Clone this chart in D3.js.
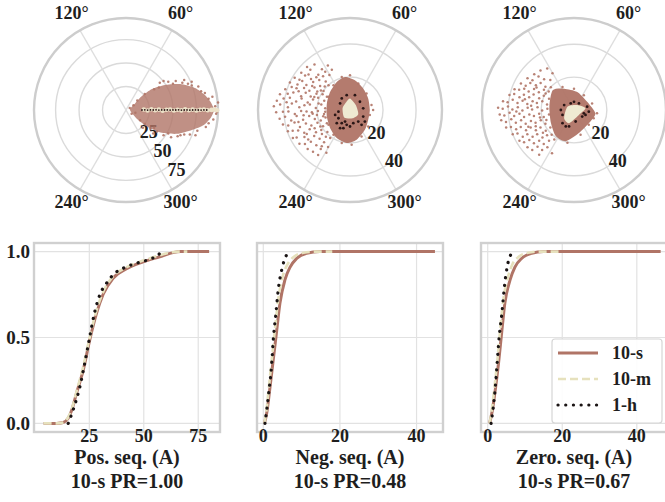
<!DOCTYPE html>
<html><head><meta charset="utf-8">
<script src="https://cdn.jsdelivr.net/npm/d3@7"></script>
<style>body{margin:0;background:#fff}svg{display:block}</style>
</head><body><svg id="c" width="665" height="502"></svg>
<script>
// ---------------- DATA ----------------
const seriesNames = ["10-s", "10-m", "1-h"];
const seriesColors = ["#b07466", "#e6e1bd", "#1a1414"];

// CDF panels
const cdfLabels = [["Pos. seq. (A)", "10-s PR=1.00"], ["Neg. seq. (A)", "10-s PR=0.48"], ["Zero. seq. (A)", "10-s PR=0.67"]];
const cdfXTicks = [[25, 50, 75], [0, 20, 40], [0, 20, 40]];
const cdfYTicks = [0.0, 0.5, 1.0];
const cdfYTickLabels = ["0.0", "0.5", "1.0"];

const posS10X = [4, 10, 13, 15.3, 17, 19.1, 22.2, 25.2, 28.3, 31.3, 35.9, 42.1, 49.7, 57.3, 63.4, 67, 80];
const posS10Y = [0, 0, 0.005, 0.03, 0.08, 0.175, 0.31, 0.486, 0.64, 0.75, 0.845, 0.90, 0.94, 0.97, 0.994, 1.0, 1.0];
const posM10X = [4, 10, 13, 15, 17, 19, 22, 25, 28, 31, 35.5, 41.5, 49, 56.5, 62.5, 66, 70];
const posM10Y = [0, 0, 0.005, 0.03, 0.085, 0.18, 0.32, 0.49, 0.645, 0.755, 0.85, 0.905, 0.945, 0.975, 0.995, 1.0, 1.0];
const posH1X = [15.3, 16.8, 18.3, 20.6, 22.9, 25.2, 27.5, 29.8, 32.9, 36.7, 40.5, 46.6, 52.8, 56.6, 58];
const posH1Y = [0.0, 0.05, 0.107, 0.21, 0.35, 0.505, 0.65, 0.748, 0.816, 0.874, 0.903, 0.932, 0.956, 0.98, 1.0];

const negS10X = [0.3, 0.9, 1.75, 2.6, 3.5, 4.35, 5.65, 7.0, 8.7, 11.3, 14.8, 44.8];
const negS10Y = [0, 0.06, 0.21, 0.37, 0.54, 0.70, 0.835, 0.91, 0.96, 0.99, 1.0, 1.0];
const negM10X = [0.3, 0.8, 1.5, 2.3, 3.1, 3.9, 5.0, 6.3, 8.0, 10.5, 14, 18];
const negM10Y = [0, 0.07, 0.22, 0.39, 0.56, 0.72, 0.85, 0.925, 0.97, 0.993, 1.0, 1.0];
const negH1X = [0.45, 1.3, 2.2, 2.6, 3.3, 3.9, 4.8, 5.65, 7.0];
const negH1Y = [0, 0.155, 0.35, 0.485, 0.64, 0.777, 0.893, 0.96, 1.0];

const zeroS10X = [0.5, 1.2, 2.0, 2.9, 3.8, 4.6, 6.0, 7.3, 9.1, 11.8, 15, 46.4];
const zeroS10Y = [0, 0.07, 0.19, 0.35, 0.54, 0.70, 0.835, 0.91, 0.96, 0.99, 1.0, 1.0];
const zeroM10X = [0.5, 1.1, 1.8, 2.6, 3.4, 4.2, 5.4, 6.6, 8.3, 10.8, 14, 19];
const zeroM10Y = [0, 0.08, 0.21, 0.37, 0.56, 0.72, 0.85, 0.925, 0.97, 0.993, 1.0, 1.0];
const zeroH1X = [0.9, 1.8, 2.4, 3.0, 3.8, 4.5, 5.4, 6.6];
const zeroH1Y = [0, 0.155, 0.31, 0.485, 0.64, 0.80, 0.93, 0.995];

// Polar plots: phasor samples as [real, imag] in A
const polarRTicks = [[25, 50, 75], [20, 40], [20, 40]];
const polarThetaTicks = [60, 120, 240, 300];
const polarRMax = [98, 55.7, 56];

const posCore10s = [[4.3,0],[9.6,7],[17,14.8],[27.7,22.3],[41.5,26.6],[57.5,27.6],[73.5,23.4],[84.1,15.9],[90.5,8],[93.7,0],[90.5,-8],[83,-15.9],[70.3,-21.2],[54.3,-25.4],[38.3,-24.3],[24.5,-18.9],[12.8,-10.5]];
const posSparse10s = [[60,29],[50,28],[70,26],[80,20],[88,12],[95,4],[96,-4],[88,-14],[76,-22],[62,-26],[45,-25],[30,-19],[15,-11],[6,-4],[8,5],[20,17],[35,24],[45,30],[66,28],[30,22],[55,-28],[85,-18],[98,8],[92,14],[40,-27],[20,-15],[12,10],[26,-20],[70,30],[40,31],[53,31],[77,25],[93,-10],[68,-26],[33,-23],[4,2],[10,-3],[84,18],[58,-27],[48,-29],[36,29],[62,32],[74,-27],[29,-25],[18,-19],[97,-2]];
const posMid10m = [[19,0.5],[23,-0.5],[27,0.8],[31,-0.3],[35,0.4],[39,-0.8],[43,0.2],[47,0.6],[51,-0.5],[55,0.3],[59,-0.4],[63,0.7],[67,-0.2],[71,0.4],[75,-0.6],[79,0.2],[83,0.5],[87,-0.3],[91,0.1],[94,0.4],[97,-0.2]];
const posHour1h = [[17,0],[20,0.2],[23,-0.1],[26,0.1],[29,0],[32,0.2],[35,-0.1],[38,0.1],[41,0],[44,0.1],[47,-0.1],[50,0.1],[53,0],[56,0.2],[59,-0.1],[62,0],[65,0.1],[68,-0.1],[71,0],[74,0.1],[77,0],[80,-0.1],[83,0.1],[86,0]];

const negCore10s = [[12,0],[11,7],[8,13],[3,18],[-3,20],[-8,17],[-12,11],[-14,4],[-14,-4],[-12,-11],[-8,-17],[-2,-20],[4,-18],[9,-12],[11,-6]];
const negSparse10s = [
[-26,26],[-21.5,27.5],[-17,24.6],[-13.4,27],[-29.5,22.6],[-24,24.3],[-19.2,21.4],[-15,23.2],[-11,24.4],
[-33.5,19.6],[-30.6,18.3],[-27.2,20.9],[-23.6,18.7],[-20.4,19.8],[-16.3,20.5],[-12.5,21.2],
[-36.4,16.7],[-31.8,15.4],[-28.9,17.6],[-26.4,15.2],[-22.3,16.9],[-18.1,14.6],[-14.7,17.3],
[-39.2,12.6],[-35.3,13.9],[-31.1,11.4],[-27.8,13.3],[-24.6,11.7],[-21.5,13.6],[-17.6,11.8],[-15.3,14.2],
[-42.4,9.5],[-37.7,9.9],[-34.3,10.6],[-29.6,8.4],[-26.8,10.4],[-23.8,8.1],[-20.3,9.9],[-16.6,9.6],
[-44.3,5.6],[-40.2,6.9],[-36.4,7.4],[-32.6,5.2],[-29.3,6.9],[-25.6,4.6],[-22.4,6.3],[-19.3,7.4],[-15.6,5.6],
[-46.1,2.2],[-42.3,3.4],[-37.6,1.6],[-35.2,3.9],[-30.7,1.7],[-27.6,2.9],[-24.3,3.3],[-20.7,1.2],[-17.4,3.4],
[-44.7,-1.4],[-40.6,-1.1],[-37.3,-0.9],[-33.4,-2.4],[-29.6,-0.6],[-26.3,-0.9],[-22.6,-2.3],[-19.4,-0.6],[-15.7,-2.4],
[-42.6,-5.3],[-39.3,-4.1],[-35.6,-6.4],[-32.3,-3.7],[-28.4,-5.9],[-24.7,-3.6],[-21.3,-5.4],[-17.7,-6.3],[-14.8,-4.6],
[-40.6,-8.8],[-37.4,-9.4],[-33.6,-7.6],[-30.3,-10.3],[-26.7,-8.2],[-23.4,-9.4],[-19.7,-7.7],[-16.3,-9.8],
[-37.6,-12.9],[-34.7,-12.6],[-31.4,-12.4],[-27.7,-13.8],[-24.4,-11.6],[-20.6,-13.4],[-17.4,-12.1],[-13.7,-13.3],
[-34.6,-16.9],[-32.3,-16.6],[-27.6,-16.4],[-25.3,-17.9],[-21.7,-15.7],[-18.4,-17.4],[-14.6,-16.2],
[-30.6,-20.4],[-27.3,-20.6],[-23.7,-19.2],[-20.4,-21.3],[-15.7,-19.6],[-13.3,-22.4],
[-25.6,-23.6],[-22.4,-25.3],[-17.7,-23.6],[-14.3,-25.9],[-19.3,-27.2],
[-14,8],[-15,1],[-14,-8],[-13,15],[-12,-17],[-16,11.5],[-17,-14.5],[-19,4],[-20,-3],[-18,-10],
[-22.9,14.6],[-25.1,21.5],[-18.6,18.1],[-32.4,13.1],[-38.4,4.7],[-28.1,-3.2],[-21.4,-11.1],[-26.2,-14.6],[-31.2,-7.3],[-17.1,-21.9],[-23.1,-1.4],[-19.8,11.2],[-16.2,-3.8],[-21.6,7.9],
[13,3],[12,-3],[10,10],[5,16],[0,21],[-5,20],[-10,15],[-13,8],[-15,-1],[-13,-9],[-10,-15],[-5,-20],[1,-21],[7,-16],[11,-10],[14,0]];
const negPale10m = [[0,7],[3.5,3],[5,-2.5],[1.5,-5],[-3.5,-4.5],[-4.5,1],[-2.5,4.5]];
const negHour1h = [[-6,4],[-7,-1],[-7,-5],[-5,-8],[-2,-9],[2,-8],[5,-7],[8,-4],[8,1],[6,5],[3,9],[-2,9],[-5,7],[-9,-3],[-4,-11],[0,-10],[7,-9],[-8,-8],[-3,-7],[9,-7],[-6,-11]];

const zeroCore10s = [[-13,12],[-6,13],[2,11],[8,5],[13,-2],[10,-7],[3,-14],[-5,-19],[-11,-16],[-14,-8],[-15,2]];
const zeroSparse10s = [
[-20.4,24.1],[-16.3,25.3],[-24.2,21.7],[-13.1,22.4],
[-28.3,19.4],[-25.3,18.1],[-21.6,20.4],[-18.2,18.7],[-14.4,18.3],
[-32.3,16.2],[-29.4,14.7],[-26.6,16.4],[-23.2,15.1],[-20.3,16.4],[-17.4,14.2],
[-36.2,12.7],[-33.4,12.3],[-30.3,12.9],[-27.6,11.2],[-24.3,12.8],[-21.4,10.8],[-18.3,12.3],[-15.4,11.3],
[-39.3,9.2],[-36.4,9.7],[-33.2,7.7],[-30.5,9.3],[-27.3,7.8],[-24.6,9.4],[-21.2,7.2],[-18.4,8.7],[-15.2,6.8],
[-43.2,5.3],[-40.4,4.7],[-37.3,6.3],[-34.4,4.2],[-31.3,5.7],[-28.4,3.7],[-25.2,5.3],[-22.6,4.2],[-19.3,5.3],[-16.4,3.3],
[-46.2,1.3],[-43.4,0.7],[-40.2,2.2],[-37.5,0.3],[-34.2,1.7],[-31.4,-0.3],[-28.2,1.3],[-25.5,0.3],[-22.2,1.7],[-19.4,-0.3],[-16.2,0.7],
[-45.2,-2.7],[-42.4,-3.3],[-39.2,-1.7],[-36.4,-3.7],[-33.2,-2.3],[-30.4,-4.3],[-27.2,-2.7],[-24.4,-3.7],[-21.2,-2.3],[-18.4,-4.3],[-15.2,-2.7],
[-44.3,-6.3],[-41.4,-7.3],[-38.2,-5.7],[-35.4,-7.7],[-32.2,-6.3],[-29.4,-8.3],[-26.2,-6.7],[-23.4,-7.7],[-20.2,-6.3],[-17.4,-8.3],
[-41.3,-10.7],[-38.4,-10.3],[-35.2,-11.7],[-32.4,-10.3],[-29.2,-12.3],[-26.4,-10.7],[-23.2,-12.3],[-20.4,-10.7],[-17.2,-12.7],[-14.4,-10.7],
[-37.3,-14.7],[-34.4,-14.3],[-31.2,-16.3],[-28.4,-14.7],[-25.2,-16.3],[-22.4,-14.7],[-19.2,-16.7],[-16.4,-15.3],
[-33.2,-18.7],[-30.4,-19.7],[-27.2,-18.3],[-24.4,-20.3],[-21.2,-18.7],[-18.4,-20.7],[-15.2,-18.7],
[-28.3,-22.7],[-25.4,-24.3],[-22.2,-22.3],[-19.4,-24.3],[-16.2,-22.7],[-13.4,-26.3],[-21.2,-27.3],
[-17.3,10.1],[-22.8,13.7],[-26.1,2.6],[-20.7,-4.6],[-16.8,-6.1],[-23.3,-9.9],[-18.9,-13.9],[-29.9,6.5],[-35.1,-0.9],[-27.8,-10.2],[-14.1,13.9],[-13.6,-15.1],
[14,-2],[11,4],[6,9],[0,13],[-7,14],[-12,-18],[-4,-20],[4,-15],[9,-9],[12,-5]];
const zeroPale10m = [[-4,2],[2,3],[7,1],[3,-3],[-3,-8],[-6,-5]];
const zeroHour1h = [[-6,3],[-2,4],[3,4],[8,2],[9,-1],[5,-4],[1,-7],[-3,-10],[-7,-8],[-7,-3],[-8,0],[6,-2],[-5,-10],[0,5],[7,-3]];

// ---------------- DRAW ----------------
const svg = d3.select("#c");
const FONT = "'Liberation Serif','Times New Roman',serif";
svg.append("rect").attr("width", 665).attr("height", 502).attr("fill", "#fff");

const polarCx = [126, 350, 574], polarCy = 110, polarR = 92;
const labelCfg = [{a: -54, dx: 9, dy: 3}, {a: -58, dx: 9, dy: -5}, {a: -58, dx: 9, dy: -5}];
const polarSets = [
  {core: posCore10s, sparse: posSparse10s, paleArea: null, palePts: posMid10m, hour: posHour1h},
  {core: negCore10s, sparse: negSparse10s, paleArea: negPale10m, palePts: null, hour: negHour1h},
  {core: zeroCore10s, sparse: zeroSparse10s, paleArea: zeroPale10m, palePts: null, hour: zeroHour1h}
];
const ang = d => Math.PI / 2 - Math.atan2(d[1], d[0]);
const mag = d => Math.hypot(d[0], d[1]);

polarSets.forEach((set, i) => {
  const g = svg.append("g").attr("transform", `translate(${polarCx[i]},${polarCy})`);
  const r = d3.scaleLinear().domain([0, polarRMax[i]]).range([0, polarR]);
  g.selectAll(".ring").data(polarRTicks[i]).join("circle")
    .attr("r", d => r(d)).attr("fill", "none").attr("stroke", "#dadada").attr("stroke-width", 1.4);
  polarThetaTicks.filter(t => t < 180).forEach(t => {
    const a = Math.PI / 2 - t * Math.PI / 180;
    const p1 = d3.pointRadial(a, polarR), p2 = d3.pointRadial(a + Math.PI, polarR);
    g.append("line").attr("x1", p1[0]).attr("y1", p1[1]).attr("x2", p2[0]).attr("y2", p2[1])
      .attr("stroke", "#dedede").attr("stroke-width", 1.3);
  });
  g.append("circle").attr("r", polarR).attr("fill", "none").attr("stroke", "#cdcdcd").attr("stroke-width", 2.4);
  polarThetaTicks.forEach(t => {
    const p = d3.pointRadial(Math.PI / 2 - t * Math.PI / 180, 109);
    g.append("text").attr("x", p[0]).attr("y", p[1] - 2.5).attr("text-anchor", "middle")
      .attr("dominant-baseline", "central").attr("font-family", FONT).attr("font-weight", "bold")
      .attr("font-size", 18).attr("fill", "#1e1e1e").text(t + "°");
  });
  const lc = labelCfg[i];
  polarRTicks[i].forEach(t => {
    const p = d3.pointRadial(Math.PI / 2 - lc.a * Math.PI / 180, r(t));
    g.append("text").attr("x", p[0] + lc.dx).attr("y", p[1] + lc.dy).attr("text-anchor", "middle")
      .attr("dominant-baseline", "central").attr("font-family", FONT).attr("font-weight", "bold")
      .attr("font-size", 18).attr("fill", "#1e1e1e").text(t);
  });
  const radial = d3.lineRadial().angle(ang).radius(d => r(mag(d))).curve(d3.curveCardinalClosed.tension(0.3));
  g.append("path").attr("d", radial(set.core)).attr("fill", seriesColors[0]).attr("fill-opacity", i === 0 ? 0.8 : 0.95);
  g.selectAll(".s10").data(set.sparse).join("circle")
    .attr("transform", d => `translate(${d3.pointRadial(ang(d), r(mag(d)))})`)
    .attr("r", 1.25).attr("fill", seriesColors[0]).attr("fill-opacity", 0.9);
  if (set.paleArea) {
    g.append("path").attr("d", radial(set.paleArea)).attr("fill", "#efead2");
  }
  if (set.palePts) {
    g.selectAll(".m10").data(set.palePts).join("circle")
      .attr("transform", d => `translate(${d3.pointRadial(ang(d), r(mag(d)))})`)
      .attr("r", 2.3).attr("fill", "#ece2c8");
  }
  g.selectAll(".h1").data(set.hour).join("circle")
    .attr("transform", d => `translate(${d3.pointRadial(ang(d), r(mag(d)))})`)
    .attr("r", i === 0 ? 0.9 : 1.4).attr("fill", "#2a1616");
});

// CDF panels
const panelLeft = [34, 257, 481], panelW = 186, panelTop = 243, panelBot = 432;
const panelXDomain = [[-0.4, 85], [-1.64, 46.9], [-1.8, 48.1]];
const cdfData = [
  [[posS10X, posS10Y], [posM10X, posM10Y], [posH1X, posH1Y]],
  [[negS10X, negS10Y], [negM10X, negM10Y], [negH1X, negH1Y]],
  [[zeroS10X, zeroS10Y], [zeroM10X, zeroM10Y], [zeroH1X, zeroH1Y]]
];
const y = d3.scaleLinear().domain([-0.05, 1.05]).range([panelBot, panelTop]);
const styles = [
  {w: 3, dash: null, cap: "butt", color: seriesColors[0]},
  {w: 2.6, dash: "8,4", cap: "butt", color: seriesColors[1]},
  {w: 3.2, dash: "0.1,7.6", cap: "round", color: seriesColors[2]}
];

cdfData.forEach((series, i) => {
  const x = d3.scaleLinear().domain(panelXDomain[i]).range([panelLeft[i], panelLeft[i] + panelW]);
  const g = svg.append("g");
  g.selectAll(".gx").data(cdfXTicks[i]).join("line")
    .attr("x1", d => x(d)).attr("x2", d => x(d)).attr("y1", panelTop).attr("y2", panelBot)
    .attr("stroke", "#e2e2e2").attr("stroke-width", 1.2);
  g.selectAll(".gy").data(cdfYTicks).join("line")
    .attr("y1", d => y(d)).attr("y2", d => y(d)).attr("x1", panelLeft[i]).attr("x2", panelLeft[i] + panelW)
    .attr("stroke", "#e2e2e2").attr("stroke-width", 1.2);
  series.forEach((s, k) => {
    const pts = s[0].map((v, j) => [v, s[1][j]]);
    const line = d3.line().x(d => x(d[0])).y(d => y(d[1])).curve(d3.curveMonotoneX);
    const p = g.append("path").attr("d", line(pts)).attr("fill", "none")
      .attr("stroke", styles[k].color).attr("stroke-width", styles[k].w)
      .attr("stroke-linecap", styles[k].cap).attr("stroke-linejoin", "round");
    if (styles[k].dash) p.attr("stroke-dasharray", styles[k].dash);
  });
  g.append("rect").attr("x", panelLeft[i]).attr("y", panelTop).attr("width", panelW).attr("height", panelBot - panelTop)
    .attr("fill", "none").attr("stroke", "#d0d0d0").attr("stroke-width", 2.4);
  g.selectAll(".xt").data(cdfXTicks[i]).join("text")
    .attr("x", d => x(d)).attr("y", 442).attr("text-anchor", "middle")
    .attr("font-family", FONT).attr("font-weight", "bold").attr("font-size", 18).attr("fill", "#1e1e1e")
    .text(d => d);
  cdfLabels[i].forEach((t, k) => {
    g.append("text").attr("x", panelLeft[i] + panelW / 2).attr("y", 464 + k * 24).attr("text-anchor", "middle")
      .attr("font-family", FONT).attr("font-weight", "bold").attr("font-size", 20).attr("fill", "#1e1e1e").text(t);
  });
  if (i === 0) {
    g.selectAll(".yt").data(cdfYTicks).join("text")
      .attr("x", 30).attr("y", d => y(d)).attr("dy", "0.35em").attr("text-anchor", "end")
      .attr("font-family", FONT).attr("font-weight", "bold").attr("font-size", 19).attr("fill", "#1e1e1e")
      .text((d, j) => cdfYTickLabels[j]);
  }
  if (i === 2) {
    const lg = svg.append("g");
    lg.append("rect").attr("x", 552).attr("y", 339).attr("width", 110).attr("height", 84).attr("rx", 3)
      .attr("fill", "#fff").attr("fill-opacity", 0.9).attr("stroke", "#d6d6d6").attr("stroke-width", 1.2);
    seriesNames.forEach((nm, k) => {
      const yy = 353 + k * 26;
      const l = lg.append("line").attr("x1", 558).attr("x2", 598).attr("y1", yy).attr("y2", yy)
        .attr("stroke", styles[k].color).attr("stroke-width", styles[k].w).attr("stroke-linecap", styles[k].cap);
      if (styles[k].dash) l.attr("stroke-dasharray", styles[k].dash);
      lg.append("text").attr("x", 612).attr("y", yy).attr("dy", "0.35em")
        .attr("font-family", FONT).attr("font-weight", "bold").attr("font-size", 18).attr("fill", "#1e1e1e").text(nm);
    });
  }
});
</script></body></html>
